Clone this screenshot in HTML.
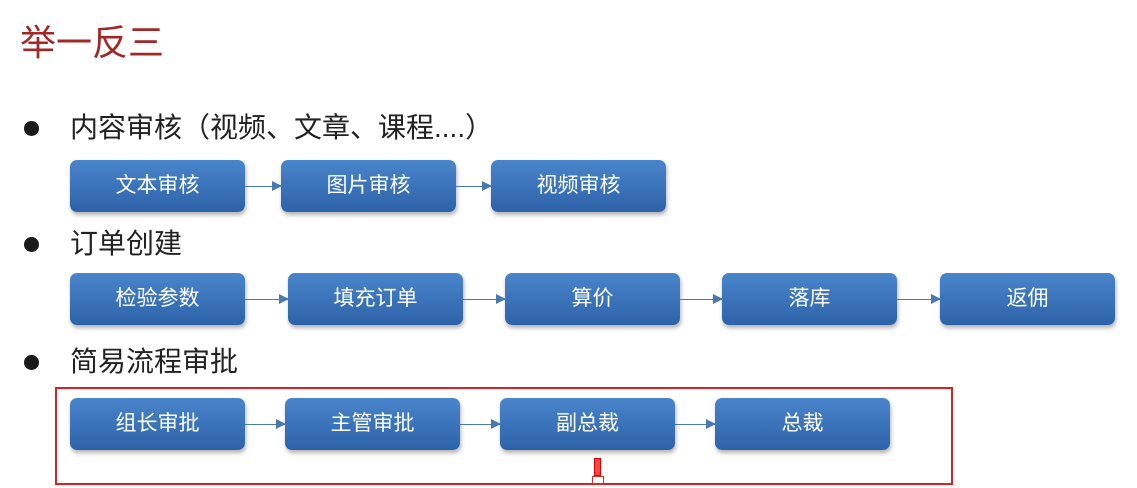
<!DOCTYPE html>
<html><head><meta charset="utf-8"><style>
body{margin:0;width:1137px;height:488px;background:#fff;position:relative;overflow:hidden;font-family:"Liberation Sans","Noto Sans CJK SC",sans-serif}
.t{position:absolute;left:20px;top:20px;font-size:36px;color:#a02828;line-height:46px}
.h{position:absolute;left:70px;font-size:28px;color:#222;line-height:34px}
.d{position:absolute;left:24px;width:15px;height:15px;border-radius:50%;background:#1a1a1a}
.b{position:absolute;height:52px;width:175px;border-radius:7px;background:linear-gradient(#4a85cc,#2d62a8);box-shadow:1px 3px 4px rgba(0,0,0,.3);color:#fff;font-size:21px;line-height:52px;text-align:center}
.a{position:absolute;height:1px;background:#4a78b0}
.a:after{content:"";position:absolute;right:-1px;top:-5px;border-left:10px solid #4a78b0;border-top:5px solid transparent;border-bottom:5px solid transparent}
</style></head><body>
<div class="t">举一反三</div>
<div class="d" style="top:121px"></div><div class="h" style="top:111px">内容审核（视频、文章、课程....）</div>
<div class="d" style="top:237px"></div><div class="h" style="top:227px">订单创建</div>
<div class="d" style="top:355px"></div><div class="h" style="top:345px">简易流程审批</div>

<div class="b" style="left:70px;top:160px">文本审核</div>
<div class="a" style="left:245px;top:186px;width:36px"></div>
<div class="b" style="left:281px;top:160px">图片审核</div>
<div class="a" style="left:456px;top:186px;width:35px"></div>
<div class="b" style="left:491px;top:160px">视频审核</div>

<div class="b" style="left:70px;top:273px">检验参数</div>
<div class="a" style="left:245px;top:299px;width:43px"></div>
<div class="b" style="left:288px;top:273px">填充订单</div>
<div class="a" style="left:463px;top:299px;width:42px"></div>
<div class="b" style="left:505px;top:273px">算价</div>
<div class="a" style="left:680px;top:299px;width:42px"></div>
<div class="b" style="left:722px;top:273px">落库</div>
<div class="a" style="left:897px;top:299px;width:43px"></div>
<div class="b" style="left:940px;top:273px">返佣</div>

<div class="b" style="left:70px;top:398px">组长审批</div>
<div class="a" style="left:245px;top:424px;width:40px"></div>
<div class="b" style="left:285px;top:398px">主管审批</div>
<div class="a" style="left:460px;top:424px;width:40px"></div>
<div class="b" style="left:500px;top:398px">副总裁</div>
<div class="a" style="left:675px;top:424px;width:40px"></div>
<div class="b" style="left:715px;top:398px">总裁</div>

<div style="position:absolute;left:55px;top:387px;width:894px;height:94px;border:2px solid #e02020"></div>
<div style="position:absolute;left:594px;top:458px;width:5px;height:16px;border:1px solid #d00;background:#f44"></div>
<div style="position:absolute;left:592px;top:476px;width:10px;height:6px;border:1px solid #c33;background:#fff"></div>
</body></html>
